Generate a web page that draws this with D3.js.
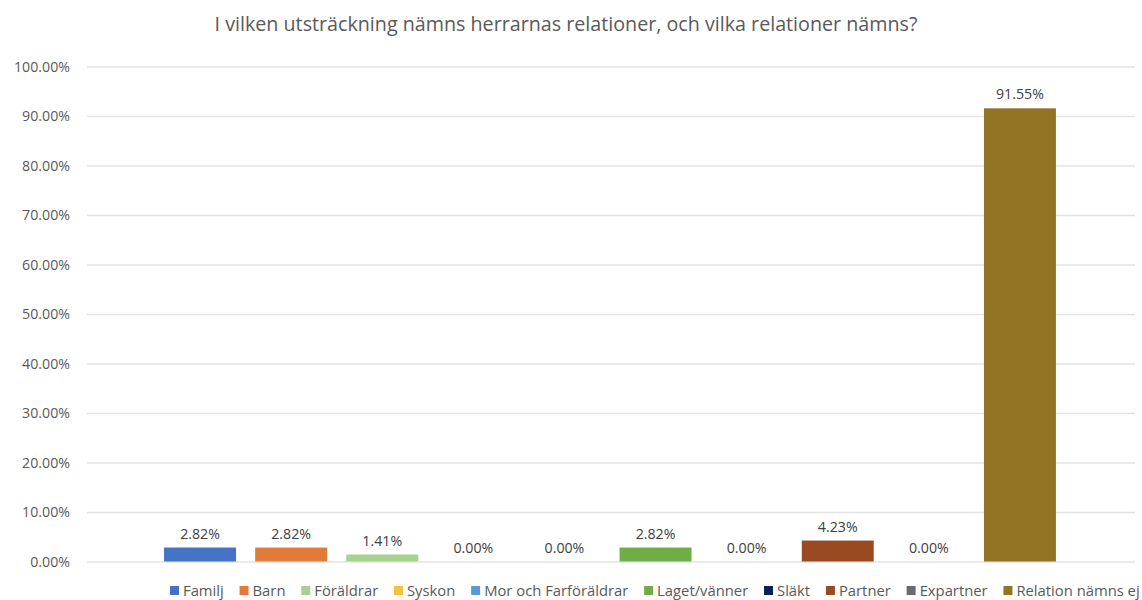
<!DOCTYPE html>
<html><head><meta charset="utf-8">
<script src="https://cdn.jsdelivr.net/npm/d3@7"></script>
<style>body{margin:0;background:#fff;} text{font-family:"Open Sans",Lato,sans-serif;}</style>
</head><body>
<svg id="c" width="1142" height="600"></svg>
<script>
const seriesNames = ["Familj","Barn","Föräldrar","Syskon","Mor och Farföräldrar","Laget/vänner","Släkt","Partner","Expartner","Relation nämns ej"];
const seriesValues = [2.82,2.82,1.41,0.00,0.00,2.82,0.00,4.23,0.00,91.55];
const seriesColors = ["#4472C4","#E07B39","#A9D18E","#F6C142","#5B9BD5","#70AD47","#0B1F5C","#9A4A20","#6B6B6B","#937424"];
const yTicks = [0,10,20,30,40,50,60,70,80,90,100];
const title = "I vilken utsträckning nämns herrarnas relationer, och vilka relationer nämns?";

const svg = d3.select("#c");
const y = d3.scaleLinear().domain([0,100]).range([561.5,66.5]);
const x = d3.scaleBand().domain(seriesNames).range([154.5,1065.5]).paddingInner(0.21).paddingOuter(0.105);

svg.append("text").attr("x",566).attr("y",31).attr("text-anchor","middle")
  .attr("font-size",19.7).attr("fill","#595959").text(title);

const axis = d3.axisLeft(y).tickValues(yTicks).tickSize(-(1135-87)).tickFormat(d=>d.toFixed(2)+"%");
const g = svg.append("g").attr("transform","translate(87,0)").call(axis);
g.select(".domain").remove();
g.selectAll(".tick line").attr("stroke","#e3e3e3").attr("stroke-width",1.3);
g.selectAll(".tick text").attr("x",-17).attr("font-size",14.2).attr("fill","#595959");

svg.selectAll("rect.bar").data(seriesNames).enter().append("rect").attr("class","bar")
  .attr("x",d=>x(d)).attr("width",x.bandwidth())
  .attr("y",(d,i)=>y(seriesValues[i])).attr("height",(d,i)=>y(0)-y(seriesValues[i]))
  .attr("fill",(d,i)=>seriesColors[i]);

svg.selectAll("text.lbl").data(seriesNames).enter().append("text").attr("class","lbl")
  .attr("x",d=>x(d)+x.bandwidth()/2).attr("y",(d,i)=>y(seriesValues[i])-9)
  .attr("text-anchor","middle").attr("font-size",14.2).attr("fill","#404040")
  .text((d,i)=>seriesValues[i].toFixed(2)+"%");

// legend
const lg = svg.append("g");
let lx = 170;
seriesNames.forEach((n,i)=>{
  lg.append("rect").attr("x",lx).attr("y",586).attr("width",9).attr("height",9).attr("fill",seriesColors[i]);
  const t = lg.append("text").attr("x",lx+13).attr("y",596).attr("font-size",14.8).attr("fill","#595959").text(n);
  lx += 13 + t.node().getComputedTextLength() + 15.8;
});
</script>
</body></html>
